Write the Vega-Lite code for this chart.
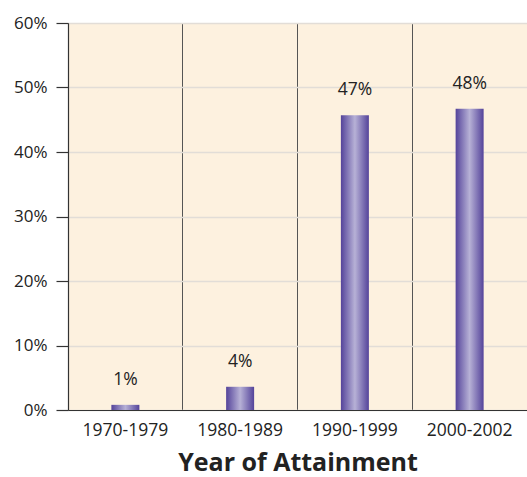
{
  "$schema": "https://vega.github.io/schema/vega-lite/v6.json",
  "autosize": "none",
  "width": 459,
  "height": 387,
  "padding": {"left": 68, "top": 23, "right": 0, "bottom": 67},
  "background": "white",
  "view": {"fill": "#fdf1df", "stroke": null},
  "config": {"font": "Open Sans"},
  "data": {
    "values": [
      {"period": "1970-1979", "pct": 0.8, "label": "1%"},
      {"period": "1980-1989", "pct": 3.6, "label": "4%"},
      {"period": "1990-1999", "pct": 45.7, "label": "47%"},
      {"period": "2000-2002", "pct": 46.7, "label": "48%"}
    ]
  },
  "encoding": {
    "x": {
      "field": "period", "type": "nominal", "sort": null,
      "scale": {"paddingInner": 0, "paddingOuter": 0},
      "axis": {
        "title": "Year of Attainment",
        "titleFontSize": 25, "titleFontWeight": "bold", "titleColor": "#222",
        "titlePadding": 12,
        "labelAngle": 0, "labelFontSize": 17.5, "labelColor": "#222", "labelPadding": 11,
        "ticks": false,
        "domainColor": "#333", "domainWidth": 1.2,
        "grid": true, "gridColor": "#555", "gridWidth": 1, "bandPosition": 0
      }
    },
    "y": {
      "field": "pct", "type": "quantitative",
      "scale": {"domain": [0, 60], "nice": false},
      "axis": {
        "title": null,
        "values": [0, 10, 20, 30, 40, 50, 60],
        "labelExpr": "datum.value + '%'",
        "labelFontSize": 17, "labelColor": "#222", "labelPadding": 9,
        "tickSize": 12, "tickColor": "#333", "tickWidth": 1.2,
        "domainColor": "#333", "domainWidth": 1.2,
        "grid": true, "gridColor": "#e2ddd7", "gridWidth": 1.5
      }
    }
  },
  "layer": [
    {
      "mark": {
        "type": "bar", "width": 28,
        "color": {
          "gradient": "linear", "x1": 0, "x2": 1, "y1": 0, "y2": 0,
          "stops": [
            {"offset": 0, "color": "#54439a"},
            {"offset": 0.5, "color": "#b7b1d6"},
            {"offset": 1, "color": "#54439a"}
          ]
        }
      }
    },
    {
      "mark": {"type": "text", "baseline": "middle", "dy": -25, "fontSize": 17.5, "color": "#222"},
      "encoding": {"text": {"field": "label"}}
    }
  ]
}
